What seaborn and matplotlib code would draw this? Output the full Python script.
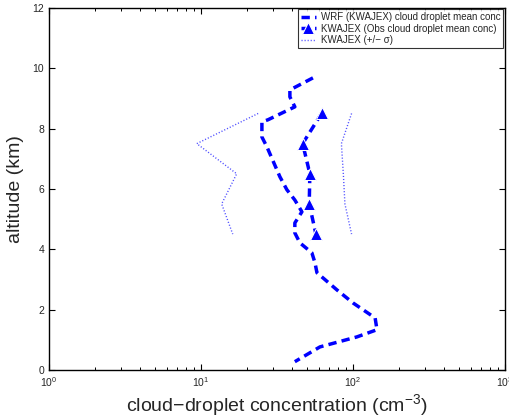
import matplotlib
matplotlib.use("Agg")
import matplotlib.pyplot as plt
import seaborn as sns
import pandas as pd
import numpy as np

sns.set_style("ticks")
plt.rcParams['font.family'] = ['Liberation Sans', 'DejaVu Sans']
plt.rcParams['mathtext.fontset'] = 'custom'
plt.rcParams['mathtext.rm'] = 'Liberation Sans'

# WRF modelled profile
wrf_alt = [9.68, 9.28, 9.05, 8.72, 8.29, 8.22, 7.72, 7.39, 6.40, 5.97, 5.63, 5.24, 4.87,
           4.54, 4.21, 3.88, 3.55, 3.22, 2.65, 2.22, 1.72, 1.33, 1.09, 0.76, 0.27]
wrf_conc = [54.6, 38.5, 38.5, 41.5, 27.6, 25.2, 25.2, 27.2, 33.1, 36.8, 41.5, 46.2, 41.5,
            41.5, 44.8, 53.7, 56.3, 58.0, 78.5, 100, 140, 144, 106, 60.7, 41.5]

# Observations
obs_alt = [8.5, 7.5, 6.5, 5.5, 4.5]
obs_conc = [62.2, 46.7, 52.1, 51.6, 57.1]
obs_low = [23.8, 9.4, 17.2, 13.7, 16.2]
obs_high = [98, 84, 86.5, 88.6, 98]

fig = plt.figure(figsize=(5.09, 4.16), dpi=100)
ax = fig.add_axes([0.096, 0.111, 0.896, 0.870])

blue = (0, 0, 1)
sns.lineplot(x=wrf_conc, y=wrf_alt, sort=False, estimator=None, ax=ax, color=blue,
             linewidth=2.5, linestyle=(0, (2.4, 1.5)), label='WRF (KWAJEX) cloud droplet mean conc')
sns.lineplot(x=obs_conc, y=obs_alt, sort=False, estimator=None, ax=ax, color=blue,
             linewidth=2.5, linestyle=(0, (2.4, 1.5)), marker='^', markersize=8,
             label='KWAJEX (Obs cloud droplet mean conc)')
sns.lineplot(x=obs_low, y=obs_alt, sort=False, estimator=None, ax=ax, color=(0.3, 0.3, 1),
             linewidth=1.0, linestyle=(0, (0.8, 1.4)), label='KWAJEX (+/\u2212 \u03c3)')
sns.lineplot(x=obs_high, y=obs_alt, sort=False, estimator=None, ax=ax, color=(0.3, 0.3, 1),
             linewidth=1.0, linestyle=(0, (0.8, 1.4)))

ax.set_xscale('log')
ax.set_xlim(1, 1000)
ax.set_ylim(0, 12)
ax.set_yticks(range(0, 13, 2))
ax.set_xticks([1, 10, 100, 1000])
ax.set_xticklabels([r'$10^{0}$', r'$10^{1}$', r'$10^{2}$', r'$10^{3}$'])
ax.tick_params(which='both', direction='in', bottom=True, left=True, top=True, right=True,
               labelsize=7.5, length=4, width=0.8, color='black')
ax.tick_params(which='minor', length=2.5, width=0.7)
ax.tick_params(axis='x', pad=4)
for s in ax.spines.values():
    s.set_visible(True)
    s.set_color('black')
    s.set_linewidth(1.0)

ax.set_xlabel('cloud\u2212droplet concentration (cm$^{\\mathregular{\u22123}}$)', fontsize=14, labelpad=2)
ax.set_ylabel('altitude (km)', fontsize=14, labelpad=6)

leg = ax.legend(loc='upper right', fontsize=7, frameon=True, fancybox=False, borderaxespad=0.15,
                handlelength=1.6, handletextpad=0.5, borderpad=0.3, labelspacing=0.15)
leg.get_frame().set_edgecolor('black')
leg.get_frame().set_linewidth(0.8)

fig.savefig('out.png', dpi=100)
